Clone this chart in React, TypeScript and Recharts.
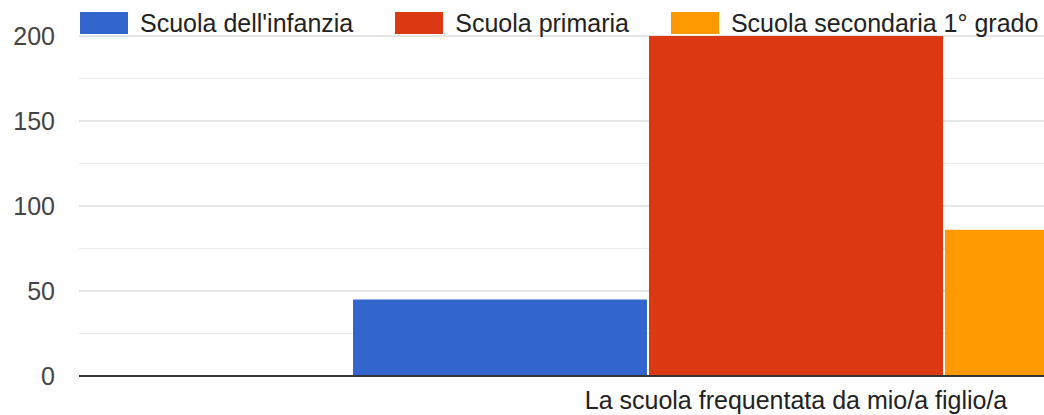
import { BarChart, Bar, XAxis, YAxis, CartesianGrid } from "recharts";

const categories = ["La scuola frequentata da mio/a figlio/a"];
const seriesNames = [
  "Scuola dell'infanzia",
  "Scuola primaria",
  "Scuola secondaria 1° grado",
];
const seriesKeys = ["infanzia", "primaria", "secondaria"];
const seriesColors = ["#3366cc", "#dc3912", "#ff9900"];
const infanzia = [45];
const primaria = [200];
const secondaria = [86];
const yTicks = [0, 50, 100, 150, 200];
const minorTicks = [25, 75, 125, 175];

const data = categories.map((name, i) => ({
  name,
  infanzia: infanzia[i],
  primaria: primaria[i],
  secondaria: secondaria[i],
}));

const FONT = "'Liberation Sans', Arial, sans-serif";

function ChartLegend() {
  return (
    <div
      style={{
        position: "absolute",
        top: 12,
        left: 80,
        display: "flex",
        alignItems: "center",
        fontFamily: FONT,
        fontSize: 25,
        color: "#222",
        whiteSpace: "nowrap",
      }}
    >
      {seriesNames.map((n, i) => (
        <div
          key={n}
          style={{ display: "flex", alignItems: "center", marginRight: 42 }}
        >
          <div
            style={{
              width: 48,
              height: 22,
              background: seriesColors[i],
              marginRight: 12,
            }}
          />
          <span style={{ lineHeight: "22px", background: "#fff" }}>{n}</span>
        </div>
      ))}
    </div>
  );
}

export default function App() {
  return (
    <div
      style={{
        position: "fixed",
        left: 0,
        top: 0,
        width: 1044,
        height: 415,
        overflow: "hidden",
        background: "#fff",
      }}
    >
      <BarChart
        width={1513}
        height={415}
        data={data}
        margin={{ top: 36, right: 0, bottom: 0, left: 0 }}
        barCategoryGap={274}
        barGap={2}
      >
        <CartesianGrid
          vertical={false}
          stroke="#ebebeb"
          horizontalValues={minorTicks}
        />
        <CartesianGrid vertical={false} stroke="#cccccc" />
        <XAxis
          dataKey="name"
          height={39}
          tickLine={false}
          tickSize={0}
          tickMargin={15}
          axisLine={{ stroke: "#333", strokeWidth: 2 }}
          tick={{ fill: "#222", fontSize: 25, fontFamily: FONT }}
        />
        <YAxis
          width={79}
          domain={[0, 200]}
          ticks={yTicks}
          axisLine={false}
          tickLine={false}
          tickSize={0}
          tickMargin={24}
          tick={{ fill: "#444", fontSize: 25, fontFamily: FONT }}
        />
        {seriesKeys.map((k, i) => (
          <Bar
            key={k}
            dataKey={k}
            name={seriesNames[i]}
            fill={seriesColors[i]}
            isAnimationActive={false}
          />
        ))}
      </BarChart>
      <ChartLegend />
    </div>
  );
}
